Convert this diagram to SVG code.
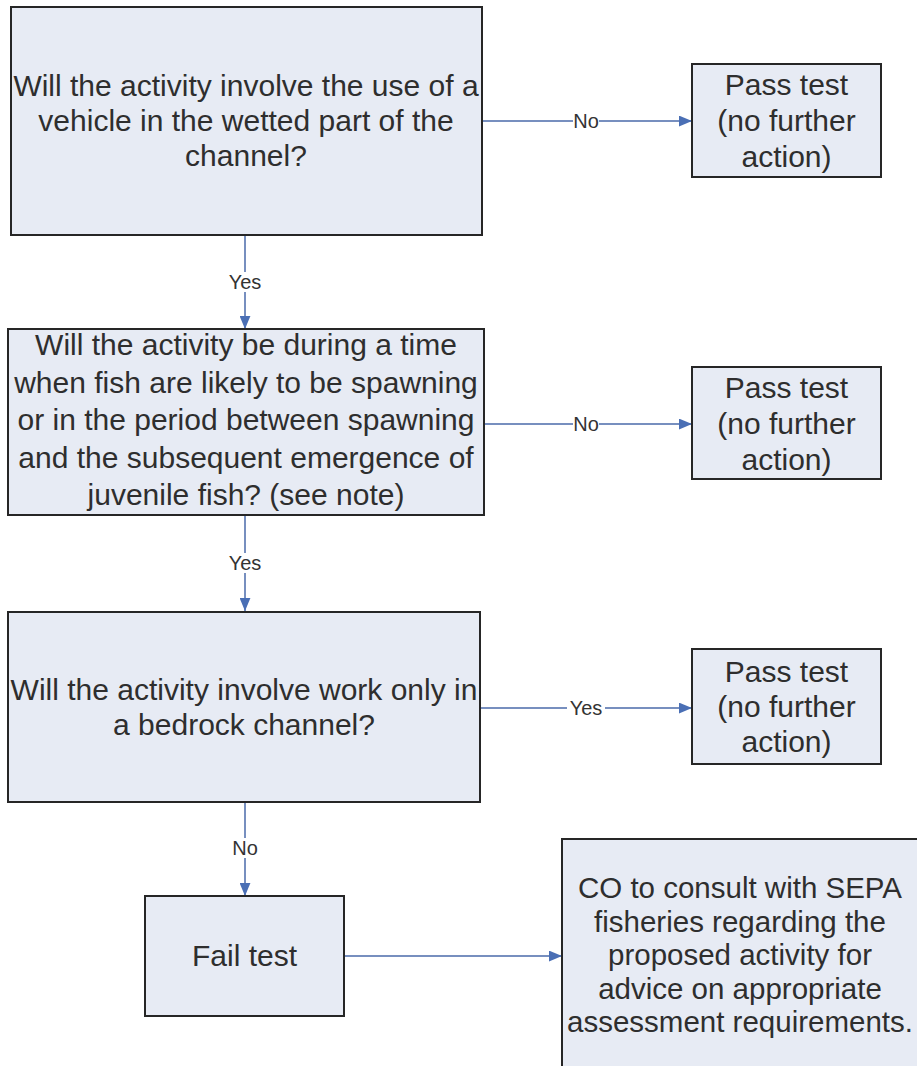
<svg xmlns="http://www.w3.org/2000/svg" width="917" height="1066" viewBox="0 0 917 1066">
  <style>
    .box { fill: #e7ebf4; stroke: #262626; stroke-width: 2; }
    .txt { font-family: "Liberation Sans", Arial, sans-serif; font-size: 30px; fill: #2e2e2e; text-anchor: middle; }
    .txt-s { font-size: 29.5px; }
    .lbl { font-family: "Liberation Sans", Arial, sans-serif; font-size: 20px; fill: #333333; text-anchor: middle; }
    .edge { stroke: #4a6aaa; stroke-width: 1.5; fill: none; marker-end: url(#arrow); }
    .lblbg { fill: #ffffff; }
  </style>
  <defs>
    <marker id="arrow" viewBox="0 0 12 10" refX="12" refY="5" markerWidth="13" markerHeight="11" markerUnits="userSpaceOnUse" orient="auto">
      <path d="M0,0 L12,5 L0,10 Z" fill="#4a6fb5"/>
    </marker>
  </defs>
  <rect width="917" height="1066" fill="#ffffff"/>

  <!-- connectors -->
  <g id="connectors">
    <path class="edge" d="M482,121 H692"/>
    <path class="edge" d="M245,235 V329"/>
    <path class="edge" d="M484,424 H692"/>
    <path class="edge" d="M245,515 V611"/>
    <path class="edge" d="M480,708 H692"/>
    <path class="edge" d="M245,802 V896"/>
    <path class="edge" d="M344,956 H562"/>
    <g id="edge-labels">
      <rect class="lblbg" x="573" y="111" width="26" height="20"/>
      <text class="lbl" x="586" y="128">No</text>
      <rect class="lblbg" x="226" y="272" width="38" height="20"/>
      <text class="lbl" x="245" y="289">Yes</text>
      <rect class="lblbg" x="573" y="414" width="26" height="20"/>
      <text class="lbl" x="586" y="431">No</text>
      <rect class="lblbg" x="226" y="553" width="38" height="20"/>
      <text class="lbl" x="245" y="570">Yes</text>
      <rect class="lblbg" x="567" y="698" width="38" height="20"/>
      <text class="lbl" x="586" y="715">Yes</text>
      <rect class="lblbg" x="232" y="838" width="26" height="20"/>
      <text class="lbl" x="245" y="855">No</text>
    </g>
  </g>

  <!-- decision: vehicle -->
  <g id="q-vehicle">
    <rect class="box" x="11" y="7" width="471" height="228"/>
    <text class="txt" x="246" y="96">Will the activity involve the use of a</text>
    <text class="txt" x="246" y="131">vehicle in the wetted part of the</text>
    <text class="txt" x="246" y="166">channel?</text>
  </g>

  <g id="pass-1">
    <rect class="box" x="692" y="64" width="189" height="113"/>
    <text class="txt" x="786.5" y="95">Pass test</text>
    <text class="txt" x="786.5" y="131">(no further</text>
    <text class="txt" x="786.5" y="167">action)</text>
  </g>

  <!-- decision: spawning period -->
  <g id="q-spawning">
    <rect class="box" x="8" y="329" width="476" height="186"/>
    <text class="txt" x="246" y="355">Will the activity be during a time</text>
    <text class="txt" x="246" y="392.5">when fish are likely to be spawning</text>
    <text class="txt" x="246" y="430">or in the period between spawning</text>
    <text class="txt" x="246" y="467.5">and the subsequent emergence of</text>
    <text class="txt" x="246" y="505">juvenile fish? (see note)</text>
  </g>

  <g id="pass-2">
    <rect class="box" x="692" y="367" width="189" height="112"/>
    <text class="txt" x="786.5" y="398">Pass test</text>
    <text class="txt" x="786.5" y="434">(no further</text>
    <text class="txt" x="786.5" y="470">action)</text>
  </g>

  <!-- decision: bedrock -->
  <g id="q-bedrock">
    <rect class="box" x="8" y="612" width="472" height="190"/>
    <text class="txt" x="244" y="700">Will the activity involve work only in</text>
    <text class="txt" x="244" y="735">a bedrock channel?</text>
  </g>

  <g id="pass-3">
    <rect class="box" x="692" y="649" width="189" height="115"/>
    <text class="txt" x="786.5" y="682">Pass test</text>
    <text class="txt" x="786.5" y="717">(no further</text>
    <text class="txt" x="786.5" y="752">action)</text>
  </g>

  <g id="fail">
    <rect class="box" x="145" y="896" width="199" height="120"/>
    <text class="txt" x="244.5" y="966">Fail test</text>
  </g>

  <!-- outcome box runs past the right and bottom edges of the sheet -->
  <g id="consult">
    <rect class="box" x="562" y="839" width="400" height="300"/>
    <text class="txt txt-s" x="740" y="898">CO to consult with SEPA</text>
    <text class="txt txt-s" x="740" y="931.5">fisheries regarding the</text>
    <text class="txt txt-s" x="740" y="965">proposed activity for</text>
    <text class="txt txt-s" x="740" y="998.5">advice on appropriate</text>
    <text class="txt txt-s" x="740" y="1032">assessment requirements.</text>
  </g>
</svg>
